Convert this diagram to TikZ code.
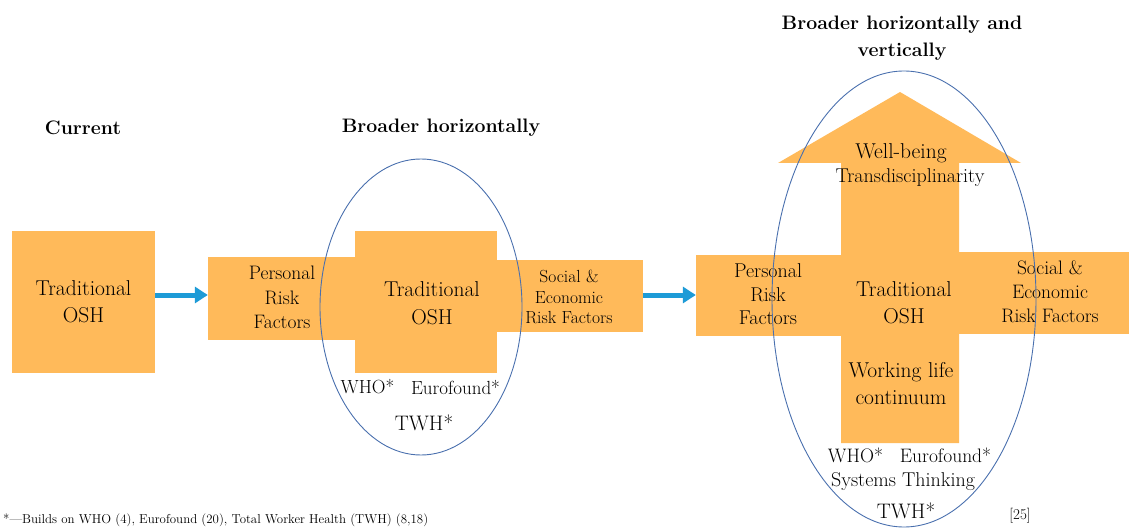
\documentclass[tikz,border=0pt]{standalone}
\usepackage{fontspec}
\usetikzlibrary{arrows.meta,shapes.geometric}
\definecolor{osh}{HTML}{FFBA5A}
\definecolor{flow}{HTML}{1D9BD7}
\definecolor{ring}{HTML}{4A70AE}
\newcommand{\fsz}[2]{\fontsize{#1}{#2}\selectfont}
\begin{document}
\begin{tikzpicture}[x=1pt,y=-1pt,
  block/.style={fill=osh, draw=none, inner sep=0pt, align=center},
  label/.style={inner sep=0pt, align=center},
  heading/.style={inner sep=0pt, align=center, font=\bfseries\fsz{19.5}{27}},
  flowarrow/.style={draw=flow, line width=5pt, -{Triangle[length=13pt,width=16pt]}},
  scope ring/.style={draw=ring, line width=0.9pt}
]
\useasboundingbox (0,0) rectangle (1129,529);

% headings
\node[heading] (hcur) at (83,128) {Current};
\node[heading] (hhor) at (441,128) {Broader horizontally};
\node[heading] (hboth) at (902,38.5) {Broader horizontally and\\vertically};

% current model
\node[block, minimum width=143, minimum height=142, font=\fsz{21.5}{27}] (cur) at (83.5,302) {Traditional\\OSH};

% broader horizontally
\node[block, minimum width=147, minimum height=83] (mpers) at (281.5,298.5) {};
\node[block, minimum width=142, minimum height=142] (mcore) at (426,302) {};
\node[block, minimum width=146, minimum height=72] (msoc) at (570,296) {};
\node[label, font=\fsz{19.5}{24.5}] (mperst) at (282,297.5) {Personal\\Risk\\Factors};
\node[label, font=\fsz{21.5}{28}] (mcoret) at (432,303) {Traditional\\OSH};
\node[label, font=\fsz{17.5}{20.5}] (msoct) at (569,297) {Social \&\\Economic\\Risk Factors};
\node[label, font=\fsz{19}{24}] (mwho) at (367.5,387) {WHO*};
\node[label, font=\fsz{19}{24}] (meuro) at (455.5,387) {Eurofound*};
\node[label, font=\fsz{21}{24}] (mtwh) at (424,423) {TWH*};
\node[scope ring, ellipse, minimum width=202, minimum height=296, inner sep=0pt] (mring) at (421,307) {};

% broader horizontally and vertically
\node[block, minimum width=145, minimum height=81] (rpers) at (768.5,295.5) {};
\node[block, minimum width=170, minimum height=82] (rsoc) at (1044,293) {};
\fill[osh] (841,443) -- (841,163) -- (778,163) -- (900,92) -- (1021,163)
  -- (959,163) -- (959,443) -- cycle;
\node[label, font=\fsz{20}{23.5}] (rperst) at (768,294.5) {Personal\\Risk\\Factors};
\node[label, font=\fsz{21.5}{27}] (rcoret) at (904,302.5) {Traditional\\OSH};
\node[label, font=\fsz{19.5}{24}] (rsoct) at (1050,292) {Social \&\\Economic\\Risk Factors};
\node[label, font=\fsz{21.5}{24}] (rwell) at (901,153) {Well-being};
\node[label, font=\fsz{20}{24}] (rtrans) at (910,178) {Transdisciplinarity};
\node[label, font=\fsz{21.5}{27}] (rwork) at (901,383.5) {Working life\\continuum};
\node[label, font=\fsz{19.5}{24}] (rwho) at (855.5,455) {WHO*};
\node[label, font=\fsz{19.5}{24}] (reuro) at (945.5,455) {Eurofound*};
\node[label, font=\fsz{20}{24}] (rsys) at (903,482) {Systems Thinking};
\node[label, font=\fsz{21}{24}] (rtwh) at (906,511) {TWH*};
\node[label, font=\fsz{15}{18}] (rref) at (1020,516) {[25]};
\node[scope ring, ellipse, minimum width=264, minimum height=456, inner sep=0pt] (rring) at (904,299) {};

% transitions between models
\draw[flowarrow] ([yshift=7pt]cur.east) -- ([yshift=3.5pt]mpers.west);
\draw[flowarrow] ([yshift=1pt]msoc.east) -- ([yshift=0.5pt]rpers.west);

% footnote
\node[label, anchor=west, font=\fsz{12.9}{16}] (foot) at (3,520) {*—Builds on WHO (4), Eurofound (20), Total Worker Health (TWH) (8,18)};
\end{tikzpicture}
\end{document}
